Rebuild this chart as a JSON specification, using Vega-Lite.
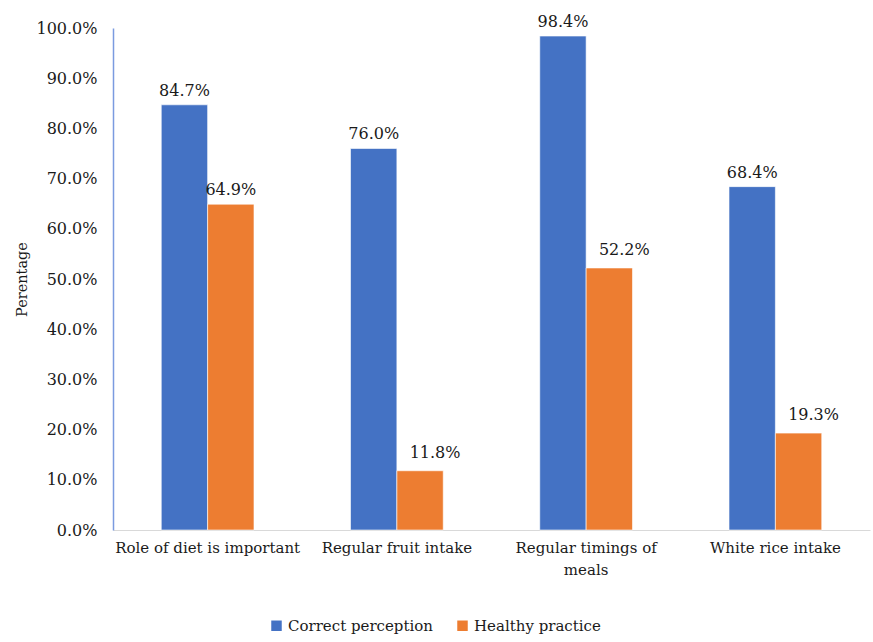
{
  "$schema": "https://vega.github.io/schema/vega-lite/v6.json",
  "width": 757,
  "height": 502,
  "autosize": {"type": "none"},
  "padding": {"left": 113, "top": 28, "right": 3, "bottom": 112},
  "background": "white",
  "config": {
    "font": "DejaVu Serif",
    "view": {"stroke": null},
    "axis": {"labelFont": "DejaVu Serif", "titleFont": "DejaVu Serif", "labelColor": "#1a1a1a", "titleColor": "#1a1a1a"},
    "legend": {"labelFont": "DejaVu Serif"},
    "text": {"font": "DejaVu Serif"}
  },
  "data": {
    "values": [
      {"category": "Role of diet is important", "series": "Correct perception", "value": 0.847},
      {"category": "Role of diet is important", "series": "Healthy practice", "value": 0.649},
      {"category": "Regular fruit intake", "series": "Correct perception", "value": 0.760},
      {"category": "Regular fruit intake", "series": "Healthy practice", "value": 0.118},
      {"category": "Regular timings of meals", "series": "Correct perception", "value": 0.984},
      {"category": "Regular timings of meals", "series": "Healthy practice", "value": 0.522},
      {"category": "White rice intake", "series": "Correct perception", "value": 0.684},
      {"category": "White rice intake", "series": "Healthy practice", "value": 0.193}
    ]
  },
  "encoding": {
    "x": {
      "field": "category", "type": "nominal", "sort": null,
      "scale": {"paddingInner": 0.51, "paddingOuter": 0.255},
      "axis": {
        "title": null, "labelAngle": 0, "labelFontSize": 15, "labelPadding": 10, "labelLimit": 0,
        "ticks": false, "domainColor": "#d9d9d9", "domainWidth": 1.2,
        "labelExpr": "datum.label == 'Regular timings of meals' ? ['Regular timings of', 'meals'] : datum.label",
        "labelLineHeight": 22
      }
    },
    "xOffset": {"field": "series", "type": "nominal", "sort": ["Correct perception", "Healthy practice"]},
    "y": {
      "field": "value", "type": "quantitative",
      "scale": {"domain": [0, 1], "nice": false},
      "axis": {
        "title": "Perentage", "format": ".1%", "values": [0,0.1,0.2,0.3,0.4,0.5,0.6,0.7,0.8,0.9,1.0],
        "labelOverlap": false,
        "labelFontSize": 16, "labelPadding": 16, "ticks": false, "grid": false,
        "domainColor": "#7b9be0", "domainWidth": 1.5,
        "titleFontSize": 14.5, "titleFontWeight": "normal", "titleX": -91, "titleY": 251,
        "titleAngle": -90, "titleBaseline": "middle", "titleAlign": "center"
      }
    }
  },
  "layer": [
    {
      "mark": {"type": "bar", "stroke": "white", "strokeWidth": 0.6},
      "encoding": {
        "color": {
          "field": "series", "type": "nominal",
          "scale": {"domain": ["Correct perception", "Healthy practice"], "range": ["#4472C4", "#ED7D31"]},
          "legend": {
            "title": null, "orient": "none", "direction": "horizontal",
            "legendX": 156, "legendY": 590,
            "symbolType": "square", "symbolSize": 110, "symbolStrokeWidth": 0,
            "labelFontSize": 15, "labelColor": "#1a1a1a", "columnPadding": 22, "labelOffset": 4
          }
        }
      }
    },
    {
      "transform": [{"filter": "!(datum.series == 'Healthy practice' && datum.value < 0.6)"}],
      "mark": {"type": "text", "baseline": "alphabetic", "dy": -9, "fontSize": 16, "color": "#1a1a1a"},
      "encoding": {"text": {"field": "value", "type": "quantitative", "format": ".1%"}}
    },
    {
      "transform": [{"filter": "datum.series == 'Healthy practice' && datum.value < 0.6"}],
      "mark": {"type": "text", "baseline": "alphabetic", "dy": -13, "dx": 15, "fontSize": 16, "color": "#1a1a1a"},
      "encoding": {"text": {"field": "value", "type": "quantitative", "format": ".1%"}}
    }
  ]
}
